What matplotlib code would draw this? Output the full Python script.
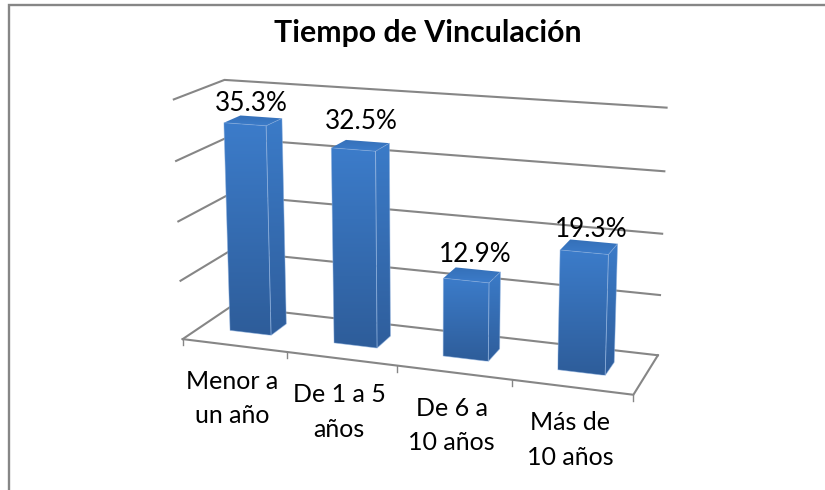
import numpy as np
import matplotlib
matplotlib.use("Agg")
import matplotlib.pyplot as plt
from matplotlib.patches import Polygon

categories = ["Menor a\nun año", "De 1 a 5\naños", "De 6 a\n10 años", "Más de\n10 años"]
values = [35.3, 32.5, 12.9, 19.3]
value_ticks = [0, 10, 20, 30, 40]

# nudges of the value labels, Excel placed them by hand-ish
label_dx = [-1, 1, 3, 2]
label_dy = [-18, -25, -22, -18]

plt.rcParams["font.family"] = ["Lato", "DejaVu Sans"]

# frame of the 3d box: (category, depth, value) -> pixel, used to fit the camera
frame_3d = [(0, 0, 40), (0, 0, 30), (0, 0, 20), (0, 0, 10), (0, 0, 0),
            (0, 1, 40), (0, 1, 0),
            (4, 1, 40), (4, 1, 30), (4, 1, 20), (4, 1, 10), (4, 1, 0),
            (1, 0, 0), (2, 0, 0), (3, 0, 0), (4, 0, 0)]
frame_px = [(172.7, 99), (175, 160), (179, 221), (181.7, 280), (184, 338),
            (225.7, 81), (229, 307),
            (666.7, 107), (664.3, 172.7), (662, 233.7), (660, 294.7), (659, 353),
            (286.7, 354), (398, 365), (511, 381.7), (632.7, 395)]


def fit_camera(pts3, pts2):
    rows = []
    for (x, y, z), (u, v) in zip(pts3, pts2):
        rows.append([x, y, z, 1, 0, 0, 0, 0, -u * x, -u * y, -u * z, -u])
        rows.append([0, 0, 0, 0, x, y, z, 1, -v * x, -v * y, -v * z, -v])
    rows = np.array(rows, dtype=float)
    _, _, vt = np.linalg.svd(rows)
    return vt[-1].reshape(3, 4)


cam = fit_camera(frame_3d, frame_px)


def proj(x, y, z):
    p = cam @ np.array([x, y, z, 1.0])
    return p[0] / p[2], p[1] / p[2]


fig = plt.figure(figsize=(8.25, 4.9), dpi=100)
ax = fig.add_axes([0, 0, 1, 1])
ax.set_xlim(0, 825)
ax.set_ylim(490, 0)
ax.axis("off")

# chart border, right and bottom sides are cut off in the picture
ax.plot([9.2, 9.2, 825], [490, 4.6, 4.6], color="#868686", lw=1.7,
        solid_joinstyle="miter", solid_capstyle="butt")

ax.text(428, 33, "Tiempo de Vinculación", ha="center", va="center",
        fontsize=21.8, fontweight="bold", color="black")

# gridlines on side and back walls
grid_color = "#868686"
for v in value_ticks:
    pts = [proj(0, 0, v), proj(0, 1, v), proj(4, 1, v)]
    ax.plot(*zip(*pts), color=grid_color, lw=1.5, zorder=1)

# floor front edge and right edge, with ticks
pts = [proj(0, 0, 0), proj(4, 0, 0), proj(4, 1, 0)]
ax.plot(*zip(*pts), color=grid_color, lw=1.5, zorder=1)
for i in range(5):
    u, v = proj(i, 0, 0)
    ax.plot([u, u], [v, v + 6], color=grid_color, lw=1, zorder=1)


def gradient_face(corners, top_col, bot_col, zorder):
    corners = np.array(corners)
    poly = Polygon(corners, closed=True, fc="none", ec="none", zorder=zorder)
    ax.add_patch(poly)
    x0, x1 = corners[:, 0].min(), corners[:, 0].max()
    y0, y1 = corners[:, 1].min(), corners[:, 1].max()
    c0 = np.array(matplotlib.colors.to_rgb(top_col))
    c1 = np.array(matplotlib.colors.to_rgb(bot_col))
    t = np.linspace(0, 1, 64)[:, None, None]
    img = c0[None, None, :] * (1 - t) + c1[None, None, :] * t
    im = ax.imshow(img, extent=(x0, x1, y1, y0), aspect="auto", zorder=zorder,
                   interpolation="bilinear")
    im.set_clip_path(poly)
    ax.set_xlim(0, 825)
    ax.set_ylim(490, 0)


bar_w = 0.2
for i, val in enumerate(values):
    xc = i + 0.49
    xl, xr = xc - bar_w, xc + bar_w
    yf, yb = 0.36, 0.70
    z = 3 + i * 0.1
    side = [proj(xr, yf, val), proj(xr, yb, val), proj(xr, yb, 0), proj(xr, yf, 0)]
    front = [proj(xl, yf, val), proj(xr, yf, val), proj(xr, yf, 0), proj(xl, yf, 0)]
    top = [proj(xl, yf, val), proj(xr, yf, val), proj(xr, yb, val), proj(xl, yb, val)]
    gradient_face(side, "#3B7BC8", "#2F5E9C", z)
    gradient_face(front, "#3C7CCA", "#2E5D9A", z)
    gradient_face(top, "#3570B8", "#3C7CCA", z)
    for face in (side, front):
        ax.add_patch(Polygon(face, closed=True, fc="none", ec="#8DB0DE", lw=0.6,
                             alpha=0.55, zorder=z + 0.01))
    u, v = proj(i + 0.5, 0.5, val)
    ax.text(u + label_dx[i], v + label_dy[i], f"{val:.1f}%", ha="center", va="center",
            fontsize=18.8, color="black", zorder=10)

    u, v = proj(i + 0.5, 0, 0)
    ax.text(u - 2, v + 53, categories[i], ha="center", va="center", fontsize=18,
            color="black", linespacing=1.62, zorder=10)

fig.savefig("out.png", dpi=100, facecolor="white")
